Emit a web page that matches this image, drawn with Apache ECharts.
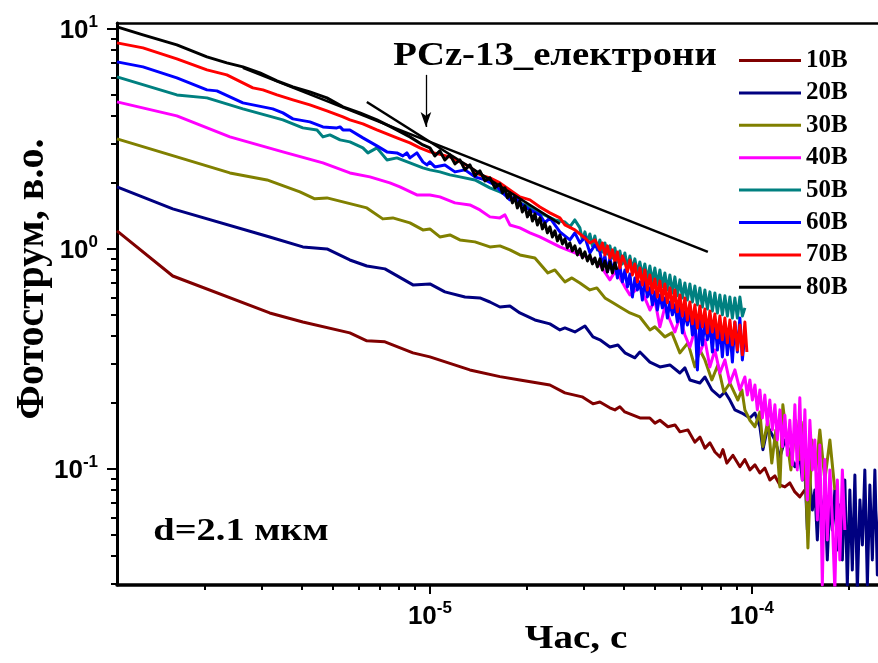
<!DOCTYPE html>
<html><head><meta charset="utf-8">
<script src="https://cdn.jsdelivr.net/npm/echarts@6/dist/echarts.min.js"></script>
<style>html,body{margin:0;padding:0;background:#fff}#c{width:878px;height:663px}</style>
</head><body><div id="c"></div>
<script>
// ---- data (time in s, photocurrent in a.u.) ----
const seriesNames = ['10В','20В','30В','40В','50В','60В','70В','80В'];
const seriesColors = ['#800000','#000080','#808000','#FF00FF','#008080','#0000FF','#FF0000','#000000'];

const d10 = [[1.067e-6,1.204],[1.59e-6,0.751],[3.18e-6,0.510],[4.03e-6,0.464],[5.64e-6,0.414],[6.37e-6,0.381],[7.25e-6,0.377],[8.86e-6,0.336],[1.0e-5,0.322],[1.331e-5,0.281],[1.65e-5,0.262],[1.903e-5,0.253],[2.359e-5,0.240],[2.626e-5,0.221],[2.97e-5,0.212],[3.21e-5,0.197],[3.373e-5,0.201],[3.62e-5,0.189],[3.755e-5,0.185],[3.89e-5,0.191],[4.03e-5,0.181],[4.49e-5,0.170],[4.82e-5,0.170],[5.0e-5,0.161],[5.18e-5,0.166],[5.485e-5,0.155],[5.77e-5,0.158],[5.98e-5,0.147],[6.33e-5,0.150],[6.65e-5,0.132],[6.9e-5,0.139],[7.15e-5,0.124],[7.41e-5,0.131],[7.68e-5,0.119],[7.96e-5,0.113],[8.13e-5,0.122],[8.36e-5,0.106],[8.73e-5,0.115],[9.18e-5,0.102],[9.51e-5,0.110],[9.86e-5,0.0987],[1.022e-4,0.104],[1.059e-4,0.0956],[1.097e-4,0.1007],[1.137e-4,0.0888],[1.179e-4,0.0927],[1.222e-4,0.0843],[1.266e-4,0.0826],[1.312e-4,0.0861],[1.36e-4,0.0784],[1.409e-4,0.0744],[1.461e-4,0.0800]];

const d20 = [[1.067e-6,1.907],[1.59e-6,1.515],[3.18e-6,1.130],[4.03e-6,1.018],[4.79e-6,0.997],[5.64e-6,0.888],[6.37e-6,0.834],[7.25e-6,0.809],[8.86e-6,0.684],[1.0e-5,0.691],[1.113e-5,0.636],[1.285e-5,0.603],[1.43e-5,0.597],[1.536e-5,0.572],[1.65e-5,0.543],[1.772e-5,0.549],[1.903e-5,0.510],[2.119e-5,0.474],[2.359e-5,0.455],[2.534e-5,0.427],[2.626e-5,0.436],[2.82e-5,0.418],[3.03e-5,0.445],[3.21e-5,0.397],[3.373e-5,0.385],[3.623e-5,0.357],[3.837e-5,0.365],[4.033e-5,0.336],[4.332e-5,0.319],[4.489e-5,0.339],[4.822e-5,0.305],[5.18e-5,0.290],[5.564e-5,0.296],[5.976e-5,0.272],[6.194e-5,0.287],[6.42e-5,0.253],[6.895e-5,0.245],[7.147e-5,0.261],[7.51e-5,0.228],[7.955e-5,0.212],[8.245e-5,0.223],[8.545e-5,0.205],[8.856e-5,0.185],[9.31e-5,0.179],[9.858e-5,0.170],[1.022e-4,0.179],[1.059e-4,0.155],[1.082e-4,0.122],[1.121e-4,0.155],[1.179e-4,0.135],[1.222e-4,0.113],[1.266e-4,0.135],[1.312e-4,0.118],[1.36e-4,0.102],[1.409e-4,0.113],[1.435e-4,0.0888],[1.461e-4,0.0987],[1.487e-4,0.0526],[1.514e-4,0.0888],[1.541e-4,0.0649],[1.569e-4,0.0800],[1.597e-4,0.0474],[1.626e-4,0.0843],[1.655e-4,0.0584],[1.685e-4,0.0760],[1.715e-4,0.0385],[1.747e-4,0.0721],[1.778e-4,0.0526],[1.81e-4,0.0800],[1.843e-4,0.0427],[1.876e-4,0.0684],[1.91e-4,0.0385],[1.944e-4,0.0888],[1.979e-4,0.0296],[2.015e-4,0.0800],[2.051e-4,0.0346],[2.089e-4,0.0936],[2.126e-4,0.0281],[2.165e-4,0.0721],[2.204e-4,0.0450],[2.243e-4,0.0987],[2.284e-4,0.0296],[2.325e-4,0.0843],[2.367e-4,0.0385],[2.41e-4,0.0987],[2.453e-4,0.0329],[2.497e-4,0.0721]];

const d30 = [[1.067e-6,3.152],[1.637e-6,2.611],[2.392e-6,2.208],[3.12e-6,2.052],[3.947e-6,1.810],[4.39e-6,1.683],[4.79e-6,1.700],[6.37e-6,1.531],[7.14e-6,1.365],[7.67e-6,1.379],[8.67e-6,1.309],[9.51e-6,1.216],[1.0e-5,1.229],[1.074e-5,1.130],[1.154e-5,1.154],[1.239e-5,1.095],[1.38e-5,1.073],[1.536e-5,1.018],[1.65e-5,1.029],[1.772e-5,0.987],[1.903e-5,0.936],[2.119e-5,0.907],[2.325e-5,0.775],[2.445e-5,0.800],[2.626e-5,0.706],[2.761e-5,0.736],[2.923e-5,0.698],[3.14e-5,0.649],[3.3e-5,0.663],[3.496e-5,0.597],[3.702e-5,0.567],[3.891e-5,0.543],[4.18e-5,0.510],[4.489e-5,0.489],[4.822e-5,0.427],[4.997e-5,0.441],[5.368e-5,0.397],[5.644e-5,0.414],[5.976e-5,0.336],[6.33e-5,0.373],[6.653e-5,0.290],[6.895e-5,0.346],[7.147e-5,0.312],[7.51e-5,0.253],[7.84e-5,0.296],[8.185e-5,0.223],[8.545e-5,0.245],[9.048e-5,0.205],[9.31e-5,0.228],[9.512e-5,0.185],[9.858e-5,0.166],[1.022e-4,0.155],[1.059e-4,0.181],[1.082e-4,0.126],[1.121e-4,0.166],[1.153e-4,0.106],[1.187e-4,0.150],[1.222e-4,0.0826],[1.248e-4,0.195],[1.285e-4,0.135],[1.322e-4,0.0987],[1.369e-4,0.166],[1.409e-4,0.110],[1.45e-4,0.163],[1.493e-4,0.0436],[1.536e-4,0.135],[1.581e-4,0.0987],[1.626e-4,0.150],[1.685e-4,0.0888],[1.747e-4,0.135],[1.81e-4,0.080]];

const d40 = [[1.067e-6,4.644],[1.637e-6,4.011],[2.392e-6,3.219],[3.495e-6,2.751],[4.653e-6,2.452],[5.644e-6,2.208],[6.51e-6,2.118],[7.51e-6,1.989],[8.07e-6,1.907],[9.11e-6,1.754],[1.0e-5,1.754],[1.074e-5,1.718],[1.196e-5,1.614],[1.331e-5,1.580],[1.43e-5,1.499],[1.536e-5,1.394],[1.65e-5,1.379],[1.71e-5,1.423],[1.772e-5,1.281],[1.903e-5,1.242],[2.045e-5,1.179],[2.196e-5,1.130],[2.359e-5,1.073],[2.534e-5,1.018],[2.82e-5,0.956],[3.14e-5,0.907],[3.373e-5,0.843],[3.623e-5,0.721],[3.755e-5,0.784],[3.891e-5,0.736],[4.033e-5,0.670],[4.18e-5,0.616],[4.489e-5,0.670],[4.652e-5,0.597],[4.822e-5,0.526],[4.997e-5,0.584],[5.18e-5,0.441],[5.368e-5,0.543],[5.564e-5,0.474],[5.766e-5,0.418],[5.976e-5,0.489],[6.194e-5,0.405],[6.42e-5,0.357],[6.653e-5,0.427],[6.895e-5,0.336],[7.147e-5,0.385],[7.407e-5,0.290],[7.676e-5,0.346],[7.955e-5,0.272],[8.245e-5,0.312],[8.545e-5,0.245],[8.856e-5,0.281],[9.178e-5,0.228],[9.512e-5,0.261],[9.683e-5,0.216],[9.858e-5,0.253],[1.004e-4,0.205],[1.022e-4,0.240],[1.040e-4,0.185],[1.059e-4,0.228],[1.078e-4,0.170],[1.097e-4,0.216],[1.117e-4,0.158],[1.137e-4,0.205],[1.158e-4,0.150],[1.179e-4,0.195],[1.20e-4,0.135],[1.222e-4,0.185],[1.244e-4,0.126],[1.266e-4,0.175],[1.289e-4,0.115],[1.312e-4,0.166],[1.336e-4,0.104],[1.36e-4,0.195],[1.384e-4,0.0987],[1.409e-4,0.210],[1.435e-4,0.0888],[1.461e-4,0.185],[1.487e-4,0.0721],[1.514e-4,0.166],[1.541e-4,0.0987],[1.569e-4,0.135],[1.597e-4,0.0584],[1.626e-4,0.128],[1.655e-4,0.0296],[1.685e-4,0.110],[1.715e-4,0.0474],[1.747e-4,0.0987],[1.778e-4,0.0584],[1.81e-4,0.0281],[1.843e-4,0.0888],[1.876e-4,0.0385],[1.91e-4,0.0987],[1.944e-4,0.0526]];

const d50 = [[1.067e-6,6.033],[1.637e-6,4.996],[2.03e-6,4.842],[2.626e-6,4.315],[3.495e-6,3.846],[4.03e-6,3.537],[4.46e-6,3.463],[4.653e-6,3.219],[4.892e-6,3.287],[5.26e-6,3.120],[5.644e-6,3.055],[6.193e-6,2.869],[6.42e-6,2.723],[6.845e-6,2.869],[7.354e-6,2.530],[7.898e-6,2.584],[8.669e-6,2.452],[9.51e-6,2.327],[1.0e-5,2.279],[1.074e-5,2.232],[1.154e-5,2.163],[1.239e-5,2.118],[1.38e-5,2.052],[1.536e-5,1.887],[1.65e-5,1.810],[1.772e-5,1.718],[1.903e-5,1.614],[2.045e-5,1.547],[2.196e-5,1.453],[2.445e-5,1.350],[2.626e-5,1.322],[2.721e-5,1.255],[2.82e-5,1.350],[2.923e-5,1.242],[2.976e-5,1.095],[3.03e-5,1.191],[3.085e-5,1.073],[3.14e-5,1.166],[3.197e-5,1.029],[3.254e-5,1.142],[3.313e-5,0.987],[3.373e-5,1.095],[3.434e-5,0.966],[3.496e-5,1.061],[3.559e-5,0.946],[3.623e-5,1.029],[3.688e-5,0.907],[3.755e-5,1.007],[3.823e-5,0.870],[3.891e-5,0.976],[3.961e-5,0.852],[4.033e-5,0.956],[4.106e-5,0.817],[4.18e-5,0.926],[4.255e-5,0.800],[4.332e-5,0.898],[4.41e-5,0.775],[4.489e-5,0.870],[4.57e-5,0.751],[4.652e-5,0.852],[4.736e-5,0.721],[4.822e-5,0.834],[4.909e-5,0.706],[4.997e-5,0.817],[5.087e-5,0.684],[5.18e-5,0.800],[5.273e-5,0.670],[5.368e-5,0.775],[5.465e-5,0.649],[5.564e-5,0.759],[5.664e-5,0.629],[5.766e-5,0.744],[5.87e-5,0.610],[5.976e-5,0.721],[6.084e-5,0.597],[6.194e-5,0.698],[6.305e-5,0.584],[6.42e-5,0.691],[6.536e-5,0.572],[6.653e-5,0.677],[6.773e-5,0.555],[6.895e-5,0.663],[7.019e-5,0.543],[7.147e-5,0.649],[7.276e-5,0.532],[7.407e-5,0.636],[7.54e-5,0.521],[7.676e-5,0.629],[7.814e-5,0.510],[7.955e-5,0.616],[8.098e-5,0.500],[8.245e-5,0.610],[8.393e-5,0.494],[8.545e-5,0.603],[8.699e-5,0.484],[8.856e-5,0.597],[9.015e-5,0.484],[9.178e-5,0.603],[9.343e-5,0.494],[9.512e-5,0.538]];

const d60 = [[1.067e-6,7.059],[1.285e-6,6.697],[1.637e-6,5.970],[2.03e-6,5.265],[2.18e-6,5.210],[2.626e-6,4.595],[3.25e-6,4.315],[3.495e-6,4.138],[3.754e-6,3.887],[4.239e-6,3.766],[4.653e-6,3.574],[5.14e-6,3.537],[5.26e-6,3.574],[5.37e-6,3.463],[5.644e-6,3.463],[6.193e-6,3.186],[6.51e-6,3.055],[6.845e-6,2.929],[7.354e-6,2.751],[7.898e-6,2.723],[8.24e-6,2.639],[8.48e-6,2.723],[8.669e-6,2.584],[9.11e-6,2.723],[9.51e-6,2.478],[9.79e-6,2.401],[1.0e-5,2.478],[1.036e-5,2.351],[1.113e-5,2.401],[1.196e-5,2.232],[1.285e-5,2.279],[1.38e-5,2.118],[1.482e-5,2.052],[1.592e-5,1.947],[1.71e-5,1.754],[1.772e-5,1.665],[1.836e-5,1.718],[1.903e-5,1.614],[2.045e-5,1.499],[2.196e-5,1.423],[2.276e-5,1.309],[2.359e-5,1.379],[2.534e-5,1.191],[2.721e-5,1.095],[2.82e-5,1.179],[2.923e-5,1.061],[3.03e-5,1.130],[3.14e-5,0.956],[3.254e-5,1.039],[3.373e-5,0.966],[3.434e-5,0.843],[3.496e-5,0.926],[3.559e-5,0.784],[3.623e-5,0.907],[3.688e-5,0.800],[3.755e-5,0.870],[3.823e-5,0.736],[3.891e-5,0.834],[3.961e-5,0.706],[4.033e-5,0.800],[4.106e-5,0.670],[4.18e-5,0.767],[4.255e-5,0.603],[4.332e-5,0.736],[4.41e-5,0.649],[4.489e-5,0.706],[4.57e-5,0.584],[4.652e-5,0.721],[4.736e-5,0.603],[4.822e-5,0.663],[4.909e-5,0.555],[4.997e-5,0.636],[5.087e-5,0.526],[5.18e-5,0.616],[5.273e-5,0.538],[5.368e-5,0.597],[5.465e-5,0.484],[5.564e-5,0.572],[5.664e-5,0.500],[5.766e-5,0.555],[5.87e-5,0.464],[5.976e-5,0.538],[6.084e-5,0.414],[6.194e-5,0.516],[6.305e-5,0.450],[6.42e-5,0.526],[6.536e-5,0.405],[6.653e-5,0.484],[6.773e-5,0.281],[6.895e-5,0.474],[7.019e-5,0.365],[7.147e-5,0.464],[7.276e-5,0.385],[7.407e-5,0.450],[7.54e-5,0.339],[7.676e-5,0.474],[7.814e-5,0.346],[7.955e-5,0.436],[8.098e-5,0.322],[8.245e-5,0.450],[8.393e-5,0.329],[8.545e-5,0.427],[8.699e-5,0.305],[8.856e-5,0.464],[9.015e-5,0.339],[9.178e-5,0.484],[9.343e-5,0.312],[9.512e-5,0.405]];

const d70 = [[1.067e-6,8.610],[1.285e-6,8.172],[1.637e-6,7.284],[2.03e-6,6.490],[2.34e-6,6.160],[2.82e-6,5.376],[3.03e-6,5.265],[3.35e-6,4.996],[3.754e-6,4.742],[4.239e-6,4.500],[4.787e-6,4.226],[5.37e-6,3.969],[5.644e-6,3.846],[6.193e-6,3.688],[6.845e-6,3.463],[7.354e-6,3.322],[7.898e-6,3.186],[8.669e-6,3.023],[9.309e-6,2.869],[1.0e-5,2.751],[1.154e-5,2.611],[1.239e-5,2.478],[1.331e-5,2.351],[1.43e-5,2.163],[1.536e-5,2.096],[1.65e-5,1.989],[1.772e-5,1.848],[1.903e-5,1.718],[2.045e-5,1.665],[2.196e-5,1.547],[2.359e-5,1.453],[2.534e-5,1.379],[2.626e-5,1.281],[2.82e-5,1.216],[3.03e-5,1.118],[3.14e-5,1.061],[3.254e-5,1.095],[3.373e-5,0.987],[3.434e-5,1.061],[3.496e-5,0.936],[3.559e-5,1.029],[3.623e-5,0.907],[3.688e-5,0.987],[3.755e-5,0.870],[3.823e-5,0.966],[3.891e-5,0.817],[3.961e-5,0.926],[4.033e-5,0.870],[4.106e-5,0.784],[4.18e-5,0.888],[4.255e-5,0.759],[4.332e-5,0.852],[4.41e-5,0.706],[4.489e-5,0.817],[4.57e-5,0.684],[4.652e-5,0.800],[4.736e-5,0.649],[4.822e-5,0.759],[4.909e-5,0.629],[4.997e-5,0.728],[5.087e-5,0.603],[5.18e-5,0.713],[5.273e-5,0.584],[5.368e-5,0.691],[5.465e-5,0.567],[5.564e-5,0.663],[5.664e-5,0.538],[5.766e-5,0.649],[5.87e-5,0.516],[5.976e-5,0.616],[6.084e-5,0.494],[6.194e-5,0.597],[6.305e-5,0.474],[6.42e-5,0.572],[6.536e-5,0.455],[6.653e-5,0.555],[6.773e-5,0.436],[6.895e-5,0.549],[7.019e-5,0.441],[7.147e-5,0.532],[7.276e-5,0.414],[7.407e-5,0.521],[7.54e-5,0.418],[7.676e-5,0.505],[7.814e-5,0.393],[7.955e-5,0.494],[8.098e-5,0.385],[8.245e-5,0.484],[8.393e-5,0.373],[8.545e-5,0.474],[8.699e-5,0.365],[8.856e-5,0.464],[9.015e-5,0.346],[9.178e-5,0.450],[9.343e-5,0.329],[9.512e-5,0.464],[9.65e-5,0.339]];

const d80 = [[1.067e-6,10.18],[1.285e-6,9.362],[1.637e-6,8.433],[2.03e-6,7.438],[2.34e-6,6.985],[2.626e-6,6.697],[2.965e-6,6.290],[3.35e-6,5.785],[3.754e-6,5.433],[4.239e-6,5.156],[4.787e-6,4.842],[5.37e-6,4.407],[6.06e-6,4.138],[6.845e-6,3.846],[7.675e-6,3.537],[8.669e-6,3.219],[9.51e-6,2.960],[1.0e-5,2.869],[1.036e-5,2.639],[1.074e-5,2.780],[1.113e-5,2.530],[1.154e-5,2.667],[1.196e-5,2.427],[1.239e-5,2.530],[1.285e-5,2.279],[1.331e-5,2.401],[1.38e-5,2.141],[1.43e-5,2.255],[1.482e-5,2.031],[1.536e-5,2.096],[1.592e-5,1.887],[1.65e-5,1.968],[1.68e-5,1.792],[1.71e-5,1.887],[1.741e-5,1.700],[1.772e-5,1.792],[1.804e-5,1.614],[1.836e-5,1.718],[1.869e-5,1.531],[1.903e-5,1.648],[1.937e-5,1.468],[1.973e-5,1.564],[2.008e-5,1.394],[2.045e-5,1.499],[2.082e-5,1.336],[2.119e-5,1.438],[2.157e-5,1.281],[2.196e-5,1.379],[2.236e-5,1.229],[2.276e-5,1.309],[2.317e-5,1.179],[2.359e-5,1.255],[2.401e-5,1.130],[2.445e-5,1.204],[2.489e-5,1.084],[2.534e-5,1.154],[2.58e-5,1.050],[2.626e-5,1.107],[2.673e-5,1.007],[2.721e-5,1.061],[2.77e-5,0.976],[2.82e-5,1.029],[2.871e-5,0.936],[2.923e-5,0.997],[2.976e-5,0.907],[3.03e-5,0.966],[3.085e-5,0.879],[3.14e-5,0.936],[3.197e-5,0.852],[3.254e-5,0.907],[3.313e-5,0.826],[3.373e-5,0.898],[3.434e-5,0.800],[3.496e-5,0.879],[3.559e-5,0.784],[3.623e-5,0.870],[3.688e-5,0.775],[3.755e-5,0.861],[3.808e-5,0.800]];

const seriesData = [d10, d20, d30, d40, d50, d60, d70, d80];

// fitted power-law guide lines and the arrow marking their crossing
const fitLong = [[2.626e-6,6.63],[7.30e-5,0.966]];
const fitSteep = [[6.37e-6,4.64],[2.533e-5,1.295]];
const arrowPts = [[9.72e-6,6.16],[9.72e-6,3.57]];

// axis ticks
const xMajorTicks = [1e-5, 1e-4];
const xMinorTicks = [2e-6,3e-6,4e-6,5e-6,6e-6,7e-6,8e-6,9e-6,2e-5,3e-5,4e-5,5e-5,6e-5,7e-5,8e-5,9e-5,2e-4];
const yMajorTicks = [0.1, 1, 10];
const yMinorTicks = [0.03,0.04,0.05,0.06,0.07,0.08,0.09,0.2,0.3,0.4,0.5,0.6,0.7,0.8,0.9,2,3,4,5,6,7,8,9];
const X_MIN = 1.067e-6, X_MAX = 2.5e-4, Y_MIN = 0.0296, Y_MAX = 10.6;

// ---- chart ----
const chart = echarts.init(document.getElementById('c'), null, {renderer: 'canvas'});
const tickFmt = v => '{n|10}{s|' + Math.round(Math.log10(v)) + '}';
const rich = {
  n: {fontFamily: 'Liberation Sans', fontWeight: 'bold', fontSize: 26, lineHeight: 30, verticalAlign: 'bottom', color: '#000'},
  s: {fontFamily: 'Liberation Sans', fontWeight: 'bold', fontSize: 17, lineHeight: 17, verticalAlign: 'top', color: '#000'}
};
const blk = '#000';
const mkLog = (extra) => Object.assign({type: 'log', logBase: 10, splitLine: {show: false}, minorTick: {show: false}, minorSplitLine: {show: false}}, extra);

const series = seriesData.map((d, i) => ({
  name: seriesNames[i], type: 'line', data: d, xAxisIndex: 0, yAxisIndex: 0,
  showSymbol: false, symbol: 'none', clip: true, animation: false, silent: true,
  lineStyle: {color: seriesColors[i], width: 3, join: 'round'}, itemStyle: {color: seriesColors[i]}
}));
series.push({
  name: 'fitLong', type: 'line', data: fitLong, showSymbol: false, symbol: 'none', animation: false, silent: true,
  lineStyle: {color: blk, width: 2.5}, itemStyle: {color: blk},
  markLine: {silent: true, animation: false, symbol: ['none', 'arrow'], symbolSize: [8, 15], label: {show: false},
    lineStyle: {color: blk, width: 1.3, type: 'solid'},
    data: [[{coord: arrowPts[0]}, {coord: arrowPts[1]}]]}
});
series.push({
  name: 'fitSteep', type: 'line', data: fitSteep, showSymbol: false, symbol: 'none', animation: false, silent: true,
  lineStyle: {color: blk, width: 2.5}, itemStyle: {color: blk}
});

const serif = '"Liberation Serif", "Times New Roman", serif';
chart.setOption({
  animation: false,
  backgroundColor: '#fff',
  grid: {left: 117, right: -2, top: 23, bottom: 78, containLabel: false, outerBoundsMode: 'none'},
  xAxis: [
    mkLog({min: X_MIN, max: X_MAX, position: 'bottom',
      axisLine: {show: true, onZero: false, lineStyle: {color: blk, width: 3.5}},
      axisTick: {show: true, customValues: xMajorTicks, length: 9, lineStyle: {color: blk, width: 2}},
      axisLabel: {show: true, customValues: xMajorTicks, formatter: tickFmt, margin: 15, rich: rich}}),
    mkLog({min: X_MIN, max: X_MAX, position: 'bottom',
      axisLine: {show: false},
      axisTick: {show: true, customValues: xMinorTicks, length: 5, lineStyle: {color: blk, width: 2}},
      axisLabel: {show: false}}),
    mkLog({min: X_MIN, max: X_MAX, position: 'top',
      axisLine: {show: true, onZero: false, lineStyle: {color: blk, width: 2.5}},
      axisTick: {show: false}, axisLabel: {show: false}})
  ],
  yAxis: [
    mkLog({min: Y_MIN, max: Y_MAX, position: 'left',
      axisLine: {show: true, onZero: false, lineStyle: {color: blk, width: 3}},
      axisTick: {show: true, customValues: yMajorTicks, length: 10, lineStyle: {color: blk, width: 2}},
      axisLabel: {show: true, customValues: yMajorTicks, formatter: tickFmt, margin: 19, rich: rich}}),
    mkLog({min: Y_MIN, max: Y_MAX, position: 'left',
      axisLine: {show: false},
      axisTick: {show: true, customValues: yMinorTicks, length: 6, lineStyle: {color: blk, width: 2}},
      axisLabel: {show: false}})
  ],
  legend: {
    orient: 'vertical', left: 739, top: 48, padding: 0, itemGap: 7.4,
    itemWidth: 62, itemHeight: 3, icon: 'rect', selectedMode: false,
    data: seriesNames,
    textStyle: {fontFamily: serif, fontWeight: 'bold', fontSize: 25, lineHeight: 25, color: blk}
  },
  graphic: [
    {type: 'text', x: 555, y: 56, scaleX: 1.14, silent: true,
      style: {text: 'PCz-13_електрони', font: 'bold 34px ' + serif, fill: blk, textAlign: 'center', textVerticalAlign: 'middle'}},
    {type: 'text', x: 241, y: 532, scaleX: 1.2, silent: true,
      style: {text: 'd=2.1 мкм', font: 'bold 32px ' + serif, fill: blk, textAlign: 'center', textVerticalAlign: 'middle'}},
    {type: 'text', x: 576, y: 639, scaleX: 1.15, silent: true,
      style: {text: 'Час, с', font: 'bold 34px ' + serif, fill: blk, textAlign: 'center', textVerticalAlign: 'middle'}},
    {type: 'text', x: 33, y: 279, rotation: Math.PI / 2, silent: true,
      style: {text: 'Фотострум, в.о.', font: 'bold 40px ' + serif, fill: blk, textAlign: 'center', textVerticalAlign: 'middle'}}
  ],
  series: series
});
</script></body></html>
